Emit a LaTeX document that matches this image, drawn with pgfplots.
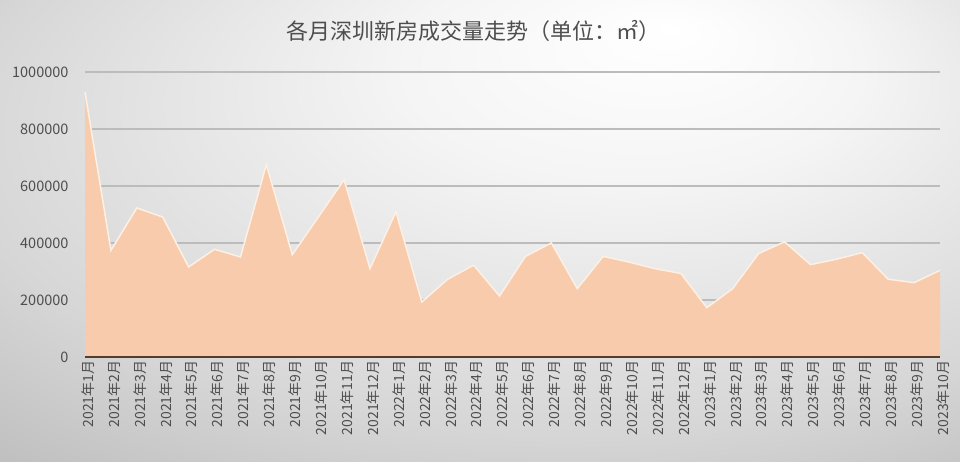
\documentclass[border=0pt]{standalone}
\usepackage{pgfplots}
\pgfplotsset{compat=1.18}
\usepackage{pgfplotstable}
\usepackage{fontspec}
\setmainfont{Noto Sans CJK SC}

\definecolor{areafill}{RGB}{247,203,172}
\definecolor{areaedge}{RGB}{253,240,228}
\definecolor{txt}{RGB}{78,78,78}
\definecolor{gridc}{RGB}{188,188,188}
\definecolor{axisc}{RGB}{84,60,46}

\pgfdeclareradialshading{bgshade}{\pgfpoint{10bp}{22bp}}{%
  color(0bp)=(white);
  color(12bp)=(black!4);
  color(32bp)=(black!16);
  color(48bp)=(black!30);
  color(60bp)=(black!34)}

% monthly volume, m2
\pgfplotstableread{
idx value
0 930000
1 374000
2 523000
3 491000
4 316000
5 378000
6 351000
7 675000
8 359000
9 490000
10 622000
11 310000
12 509000
13 193000
14 273000
15 322000
16 214000
17 353000
18 400000
19 240000
20 353000
21 333000
22 310000
23 293000
24 173000
25 240000
26 363000
27 404000
28 324000
29 343000
30 366000
31 273000
32 261000
33 304000
}\volume

\begin{document}
\begin{tikzpicture}[x=1pt,y=1pt]
\shade[shading=bgshade] (0,0) rectangle (960,462);
\node[txt, font=\fontsize{22}{26}\selectfont] at (473,431) {各月深圳新房成交量走势（单位：㎡）};
\begin{axis}[
    at={(85pt,105pt)}, anchor=south west,
    scale only axis, width=855pt, height=285pt,
    xmin=0, xmax=33, ymin=0, ymax=1000000,
    axis x line*=bottom, axis y line*=left,
    axis line style={draw=none},
    major tick length=0pt,
    ytick={0,200000,...,1000000},
    scaled y ticks=false,
    /pgf/number format/assume math mode=true,
    yticklabel style={/pgf/number format/fixed, /pgf/number format/1000 sep={},
        font=\fontsize{14.5}{17}\selectfont, text=txt, xshift=-13pt},
    ymajorgrids, grid style={gridc, line width=1.6pt},
    xtick={0,...,33},
    xticklabels={2021年1月,2021年2月,2021年3月,2021年4月,2021年5月,2021年6月,
        2021年7月,2021年8月,2021年9月,2021年10月,2021年11月,2021年12月,
        2022年1月,2022年2月,2022年3月,2022年4月,2022年5月,2022年6月,
        2022年7月,2022年8月,2022年9月,2022年10月,2022年11月,2022年12月,
        2023年1月,2023年2月,2023年3月,2023年4月,2023年5月,2023年6月,
        2023年7月,2023年8月,2023年9月,2023年10月},
    xticklabel style={rotate=90, anchor=east, font=\fontsize{14}{16}\selectfont,
        text=txt, yshift=-3pt},
    clip=false,
]
\addplot[fill=areafill, draw=none] table[x=idx, y=value] {\volume} \closedcycle;
\addplot[areaedge, line width=1.5pt] table[x=idx, y=value] {\volume};
\addplot[axisc, line width=2.6pt] coordinates {(0,0) (33,0)};
\end{axis}
\end{tikzpicture}
\end{document}
